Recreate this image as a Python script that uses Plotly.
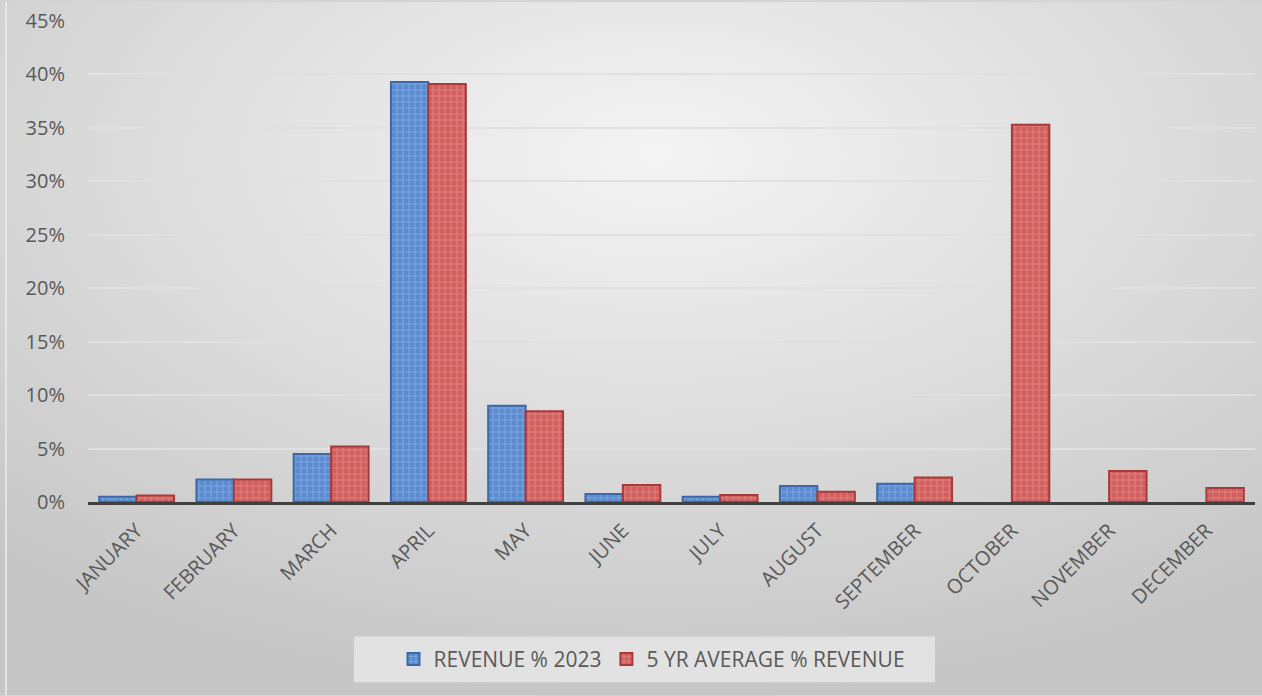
import base64
import plotly.graph_objects as go

# Monthly share of annual revenue
months = ["JANUARY", "FEBRUARY", "MARCH", "APRIL", "MAY", "JUNE", "JULY",
          "AUGUST", "SEPTEMBER", "OCTOBER", "NOVEMBER", "DECEMBER"]
revenue_2023 = [0.005, 0.021, 0.045, 0.393, 0.090, 0.0075, 0.005,
                0.015, 0.017, None, None, None]
avg_5yr = [0.006, 0.021, 0.052, 0.391, 0.085, 0.016, 0.0065,
           0.0095, 0.023, 0.353, 0.029, 0.013]

W, H = 1262, 696
ML, MR, MT, MB = 88, 7, 19, 194
PW, PH = W - ML - MR, H - MT - MB


def px_x(px):
    return (px - ML) / PW


def px_y(py):
    return (H - MB - py) / PH


TEXT = "#595959"
FONT = "Open Sans"

# radial grey background for the chart area
svg = (
    f'<svg xmlns="http://www.w3.org/2000/svg" width="{W}" height="{H}" '
    f'viewBox="0 0 {W} {H}" preserveAspectRatio="none">'
    '<defs><radialGradient id="g" cx="52%" cy="22%" r="78%">'
    '<stop offset="0" stop-color="#f4f4f4"/>'
    '<stop offset="1" stop-color="#c6c6c6"/>'
    '</radialGradient></defs>'
    f'<rect width="{W}" height="{H}" fill="url(#g)"/></svg>'
)
bg_src = "data:image/svg+xml;base64," + base64.b64encode(svg.encode()).decode()

fig = go.Figure()
fig.add_trace(go.Bar(
    name="REVENUE % 2023", x=months, y=revenue_2023,
    marker=dict(
        color="#5a8ad0",
        line=dict(color="#3b69a8", width=2),
        pattern=dict(shape="+", size=6, solidity=0.25,
                     fgcolor="#a8c3ea", bgcolor="#5a8ad0", fgopacity=0.6),
    ),
))
fig.add_trace(go.Bar(
    name="5 YR AVERAGE % REVENUE", x=months, y=avg_5yr,
    marker=dict(
        color="#d25f5e",
        line=dict(color="#a63a38", width=2),
        pattern=dict(shape="+", size=6, solidity=0.25,
                     fgcolor="#eaa5a4", bgcolor="#d25f5e", fgopacity=0.6),
    ),
))

fig.update_layout(
    width=W, height=H,
    margin=dict(l=ML, r=MR, t=MT, b=MB),
    paper_bgcolor="#d4d4d4",
    plot_bgcolor="rgba(0,0,0,0)",
    barmode="group",
    bargap=0.23,
    bargroupgap=0,
    font=dict(family=FONT, color=TEXT, size=18),
    showlegend=True,
    legend=dict(
        orientation="h",
        x=px_x(652), xanchor="center",
        y=px_y(660), yanchor="middle",
        bgcolor="rgba(0,0,0,0)",
        font=dict(family=FONT, color=TEXT, size=21),
        traceorder="normal",
    ),
    images=[dict(
        source=bg_src, xref="paper", yref="paper",
        x=px_x(0), y=px_y(0), sizex=W / PW, sizey=H / PH,
        xanchor="left", yanchor="top", sizing="stretch", layer="below",
    )],
    shapes=[
        # legend panel
        dict(type="rect", xref="paper", yref="paper",
             x0=px_x(354), x1=px_x(935), y0=px_y(683), y1=px_y(637),
             fillcolor="#e2e2e2", line=dict(width=0), layer="below"),
        # chart border on the left edge
        dict(type="line", xref="paper", yref="paper",
             x0=px_x(6), x1=px_x(6), y0=px_y(0), y1=px_y(H),
             line=dict(color="#ececec", width=1.5), layer="below"),
    ],
)

fig.update_yaxes(
    range=[0, 0.45], dtick=0.05, tickformat=".0%",
    showgrid=True, gridcolor="#e0e0e0", gridwidth=2,
    zeroline=False, showline=False,
    ticks="", ticklabelstandoff=22,
    tickfont=dict(size=20, color=TEXT, family=FONT),
)
fig.update_xaxes(
    showline=True, linecolor="#404040", linewidth=3,
    showgrid=False, ticks="",
    tickangle=-45, ticklabelstandoff=6,
    tickfont=dict(size=20, color=TEXT, family=FONT),
)

fig.write_html("out.html")
